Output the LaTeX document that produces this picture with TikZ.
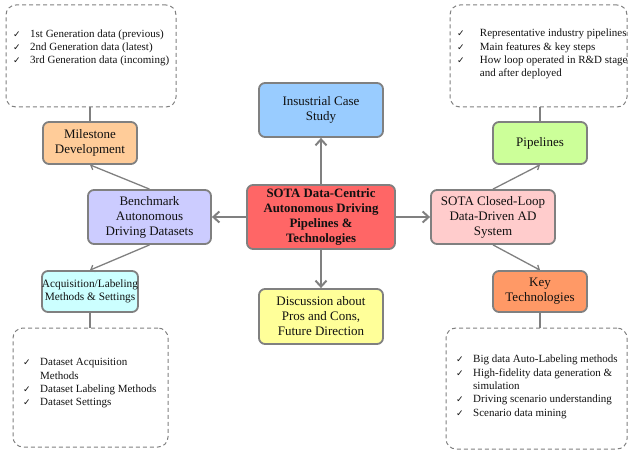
\documentclass[tikz,border=0pt]{standalone}
\usepackage{fontspec}
\setmainfont{Liberation Serif}
\newfontfamily\ckfont{DejaVu Sans}
\usetikzlibrary{arrows.meta}
\newcommand{\ck}[1][17pt]{\makebox[#1][l]{\ckfont\fontsize{9}{9}\selectfont ✓}}
\newcommand{\ckind}[1][17pt]{\hspace*{#1}}
\definecolor{bordergray}{HTML}{808080}
\definecolor{cred}{HTML}{FF6666}
\definecolor{cblue}{HTML}{99CCFF}
\definecolor{cyellow}{HTML}{FFFF99}
\definecolor{clav}{HTML}{CCCCFF}
\definecolor{cpink}{HTML}{FFCCCC}
\definecolor{cpeach}{HTML}{FFCC99}
\definecolor{cgreen}{HTML}{CCFF99}
\definecolor{ccyan}{HTML}{CCFFFF}
\definecolor{corange}{HTML}{FF9966}
\definecolor{textdark}{HTML}{111111}
\begin{document}
\begin{tikzpicture}[x=1pt,y=-1pt,
  box/.style={draw=bordergray, line width=1.8pt, rounded corners=6pt, align=center,
    inner sep=0pt, font=\fontsize{13}{15}\selectfont, text=textdark},
  dbox/.style={draw=bordergray, line width=1pt, dash pattern=on 4pt off 3pt,
    rounded corners=10pt, inner sep=0pt},
  lst/.style={align=left, inner sep=0pt, anchor=north west,
    font=\fontsize{11}{13.3}\selectfont, text=textdark},
  bigarrow/.style={draw=bordergray, line width=2.2pt, -{Straight Barb[length=6pt,width=11pt,line width=2pt]}},
  smallarrow/.style={draw=bordergray, line width=1.3pt, -{Straight Barb[length=3.5pt,width=7pt,line width=1.3pt]}},
  link/.style={draw=bordergray, line width=1.5pt}
]
\useasboundingbox (0,0) rectangle (629,454);

% main boxes
\node[box, fill=cred, minimum width=148pt, minimum height=64pt, font=\fontsize{12.8}{15}\selectfont\bfseries]
  (center) at (321,217) {SOTA Data-Centric\\Autonomous Driving\\Pipelines \&\\Technologies};
\node[box, fill=cblue, minimum width=124pt, minimum height=54pt] (ins) at (321,110) {Insustrial Case\\Study};
\node[box, fill=cyellow, minimum width=124pt, minimum height=55pt] (disc) at (321,316.5) {Discussion about\\Pros and Cons,\\Future Direction};
\node[box, fill=clav, minimum width=123pt, minimum height=54pt] (bench) at (149.5,217) {Benchmark\\Autonomous\\Driving Datasets};
\node[box, fill=cpink, minimum width=124pt, minimum height=54pt] (sota) at (493,217) {SOTA Closed-Loop\\Data-Driven AD\\System};
\node[box, fill=cpeach, minimum width=94pt, minimum height=42pt] (mile) at (90,143) {Milestone\\Development};
\node[box, fill=cgreen, minimum width=94pt, minimum height=42pt] (pipe) at (540,143) {Pipelines};
\node[box, fill=ccyan, minimum width=96pt, minimum height=41pt, font=\fontsize{11.3}{13.3}\selectfont] (acq) at (90,291.5) {Acquisition/Labeling\\Methods \& Settings};
\node[box, fill=corange, minimum width=94pt, minimum height=41pt] (key) at (540,291.5) {Key\\Technologies};

% dashed boxes
\node[dbox, minimum width=170pt, minimum height=102pt] (dtl) at (91,56) {};
\node[dbox, minimum width=177pt, minimum height=102pt] (dtr) at (538.5,56) {};
\node[dbox, minimum width=155pt, minimum height=119pt] (dbl) at (90.5,387.5) {};
\node[dbox, minimum width=181pt, minimum height=121pt] (dbr) at (536.5,388.5) {};

% lists
\node[lst] (ltl) at (13,29.3) {\ck 1st Generation data (previous)\\\ck 2nd Generation data (latest)\\\ck 3rd Generation data (incoming)};
\node[lst] (ltr) at (457,29.1) {\ck[20pt] Representative industry pipelines\\\ck[20pt] Main features \& key steps\\\ck[20pt] How loop operated in R\&D stage\\\ckind[20pt] and after deployed};
\node[lst] (lbl) at (23,358.3) {\ck Dataset Acquisition\\\ckind Methods\\\ck Dataset Labeling Methods\\\ck Dataset Settings};
\node[lst] (lbr) at (456,355.1) {\ck Big data Auto-Labeling methods\\\ck High-fidelity data generation \&\\\ckind simulation\\\ck Driving scenario understanding\\\ck Scenario data mining};

% arrows from center
\draw[bigarrow] (center.north) -- (ins.south);
\draw[bigarrow] (center.south) -- (disc.north);
\draw[bigarrow] (center.west) -- (bench.east);
\draw[bigarrow] (center.east) -- (sota.west);

% side arrows
\draw[smallarrow] (bench.north) -- (mile.south);
\draw[smallarrow] (bench.south) -- (acq.north);
\draw[smallarrow] (sota.north) -- (pipe.south);
\draw[smallarrow] (sota.south) -- (key.north);

% links to dashed boxes
\draw[link] (mile.north) -- (mile.north |- dtl.south);
\draw[link] (pipe.north) -- (pipe.north |- dtr.south);
\draw[link] (acq.south) -- (acq.south |- dbl.north);
\draw[link] (key.south) -- (key.south |- dbr.north);
\end{tikzpicture}
\end{document}
